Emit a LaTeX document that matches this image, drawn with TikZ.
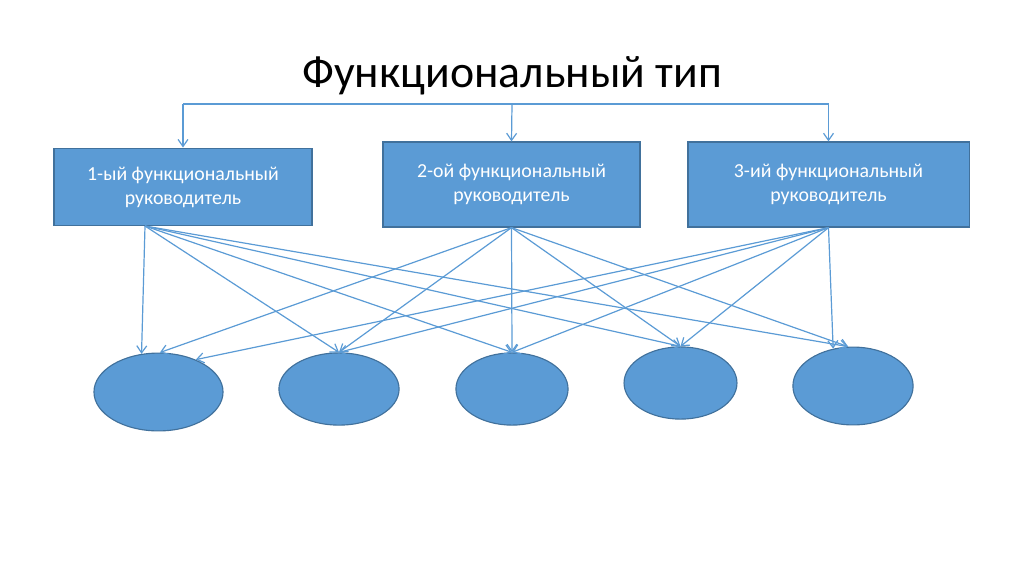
\documentclass[tikz,border=0pt]{standalone}
\usepackage{fontspec}
\setmainfont{Carlito}
\usetikzlibrary{arrows.meta,shapes.geometric}
\definecolor{boxblue}{HTML}{5B9BD5}
\definecolor{boxedge}{HTML}{41719C}
\tikzset{
	boss/.style={draw=boxedge, fill=boxblue, line width=0.8pt, text=white, align=center, font=\fontsize{14}{17}\selectfont},
	unit/.style={ellipse, draw=boxedge, fill=boxblue, line width=0.8pt, inner sep=0pt},
	link/.style={draw=boxblue, line width=0.85pt, -{Straight Barb[length=5pt,width=7pt]}}
}
\begin{document}
\begin{tikzpicture}[x=0.0248cm, y=-0.0248cm]
		\useasboundingbox (0,0) rectangle (1024,574);
		\node[font=\fontsize{32.3}{39}\selectfont] (title) at (512,76) {Функциональный тип};
		\node[boss, minimum width=6.40cm, minimum height=1.93cm] (b1) at (183,187) {1-ый функциональный\\руководитель};
		\node[boss, minimum width=6.37cm, minimum height=2.11cm] (b2) at (511.5,184.5) {2-ой функциональный\\руководитель};
		\node[boss, minimum width=6.97cm, minimum height=2.11cm] (b3) at (828.5,184.5) {3-ий функциональный\\руководитель};
		\node[unit, minimum width=3.20cm, minimum height=1.93cm] (e1) at (158.5,392) {};
		\node[unit, minimum width=2.98cm, minimum height=1.79cm] (e2) at (339,389) {};
		\node[unit, minimum width=2.78cm, minimum height=1.79cm] (e3) at (512,389) {};
		\node[unit, minimum width=2.80cm, minimum height=1.79cm] (e4) at (680.5,383) {};
		\node[unit, minimum width=2.98cm, minimum height=1.93cm] (e5) at (853,386) {};
		\coordinate (top) at (512,104);
		\coordinate (s1) at (145,226);
		\draw[draw=boxblue, line width=0.85pt] (b1.north |- top) -- (b3.north |- top);
		\draw[link] (b1.north |- top) -- (b1.north);
		\draw[link] (top) -- (b2.north);
		\draw[link] (b3.north |- top) -- (b3.north);
		\foreach \e in {e2,e3,e4} {
			\draw[link] (s1) -- (\e.north);
			\draw[link] (b2.south) -- (\e.north);
			\draw[link] (b3.south) -- (\e.north);
		}
		\draw[link] (s1) -- (e1.114);
		\draw[link] (b2.south) -- (e1.88);
		\draw[link] (b3.south) -- (e1.41);
		\draw[link] (s1) -- (e5.97);
		\draw[link] (b2.south) -- (e5.97);
		\draw[link] (b3.south) -- (e5.118);
	\end{tikzpicture}
\end{document}
